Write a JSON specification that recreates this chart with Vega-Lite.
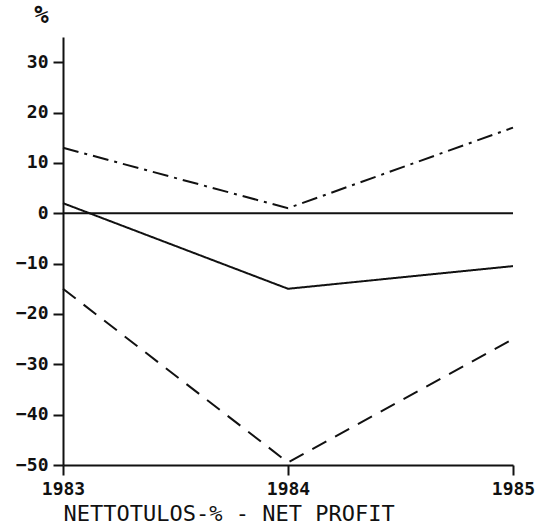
{
  "$schema": "https://vega.github.io/schema/vega-lite/v6.json",
  "autosize": "none",
  "width": 450,
  "height": 428,
  "padding": {"left": 63, "top": 37, "right": 29, "bottom": 61},
  "background": "white",
  "config": {
    "view": {"stroke": null},
    "axis": {
      "domainColor": "#111",
      "domainWidth": 2,
      "tickColor": "#111",
      "tickWidth": 2,
      "tickSize": 10,
      "labelFont": "DejaVu Sans Mono",
      "labelFontWeight": "bold",
      "labelFontSize": 18,
      "labelColor": "#111",
      "labelFlush": false,
      "labelOverlap": false,
      "labelBound": false,
      "grid": false,
      "titleFont": "DejaVu Sans Mono",
      "titleColor": "#111"
    }
  },
  "data": {
    "values": [
      {"year": "1983", "value": 2, "series": "a"},
      {"year": "1984", "value": -15, "series": "a"},
      {"year": "1985", "value": -10.5, "series": "a"},
      {"year": "1983", "value": 13, "series": "b"},
      {"year": "1984", "value": 1, "series": "b"},
      {"year": "1985", "value": 17, "series": "b"},
      {"year": "1983", "value": -15, "series": "c"},
      {"year": "1984", "value": -49.5, "series": "c"},
      {"year": "1985", "value": -25, "series": "c"}
    ]
  },
  "layer": [
    {
      "mark": {"type": "rule", "color": "#111", "strokeWidth": 2},
      "data": {"values": [{"zero": 0}]},
      "encoding": {
        "y": {"field": "zero", "type": "quantitative", "scale": {"domain": [-50, 35]}}
      }
    },
    {
      "mark": {"type": "line", "color": "#111", "strokeWidth": 2},
      "encoding": {
        "x": {
          "field": "year",
          "type": "ordinal",
          "scale": {"type": "point", "padding": 0},
          "axis": {
            "labelAngle": 0,
            "labelPadding": 5,
            "title": "NETTOTULOS-% - NET PROFIT",
            "titleFontSize": 22,
            "titleFontWeight": "normal",
            "titleAnchor": "start",
            "titleAlign": "left",
            "titlePadding": 5
          }
        },
        "y": {
          "field": "value",
          "type": "quantitative",
          "scale": {"domain": [-50, 35], "nice": false, "zero": false},
          "axis": {
            "values": [-50, -40, -30, -20, -10, 0, 10, 20, 30],
            "labelPadding": 5,
            "title": "%",
            "titleAngle": 0,
            "titleFontSize": 24,
            "titleFontWeight": "bold",
            "titleAlign": "center",
            "titleBaseline": "middle",
            "titleX": -22,
            "titleY": -22
          }
        },
        "detail": {"field": "series"},
        "strokeDash": {
          "field": "series",
          "type": "nominal",
          "scale": {"domain": ["a", "b", "c"], "range": [[1, 0], [16, 6, 3, 6], [16, 10]]},
          "legend": null
        }
      }
    }
  ]
}
